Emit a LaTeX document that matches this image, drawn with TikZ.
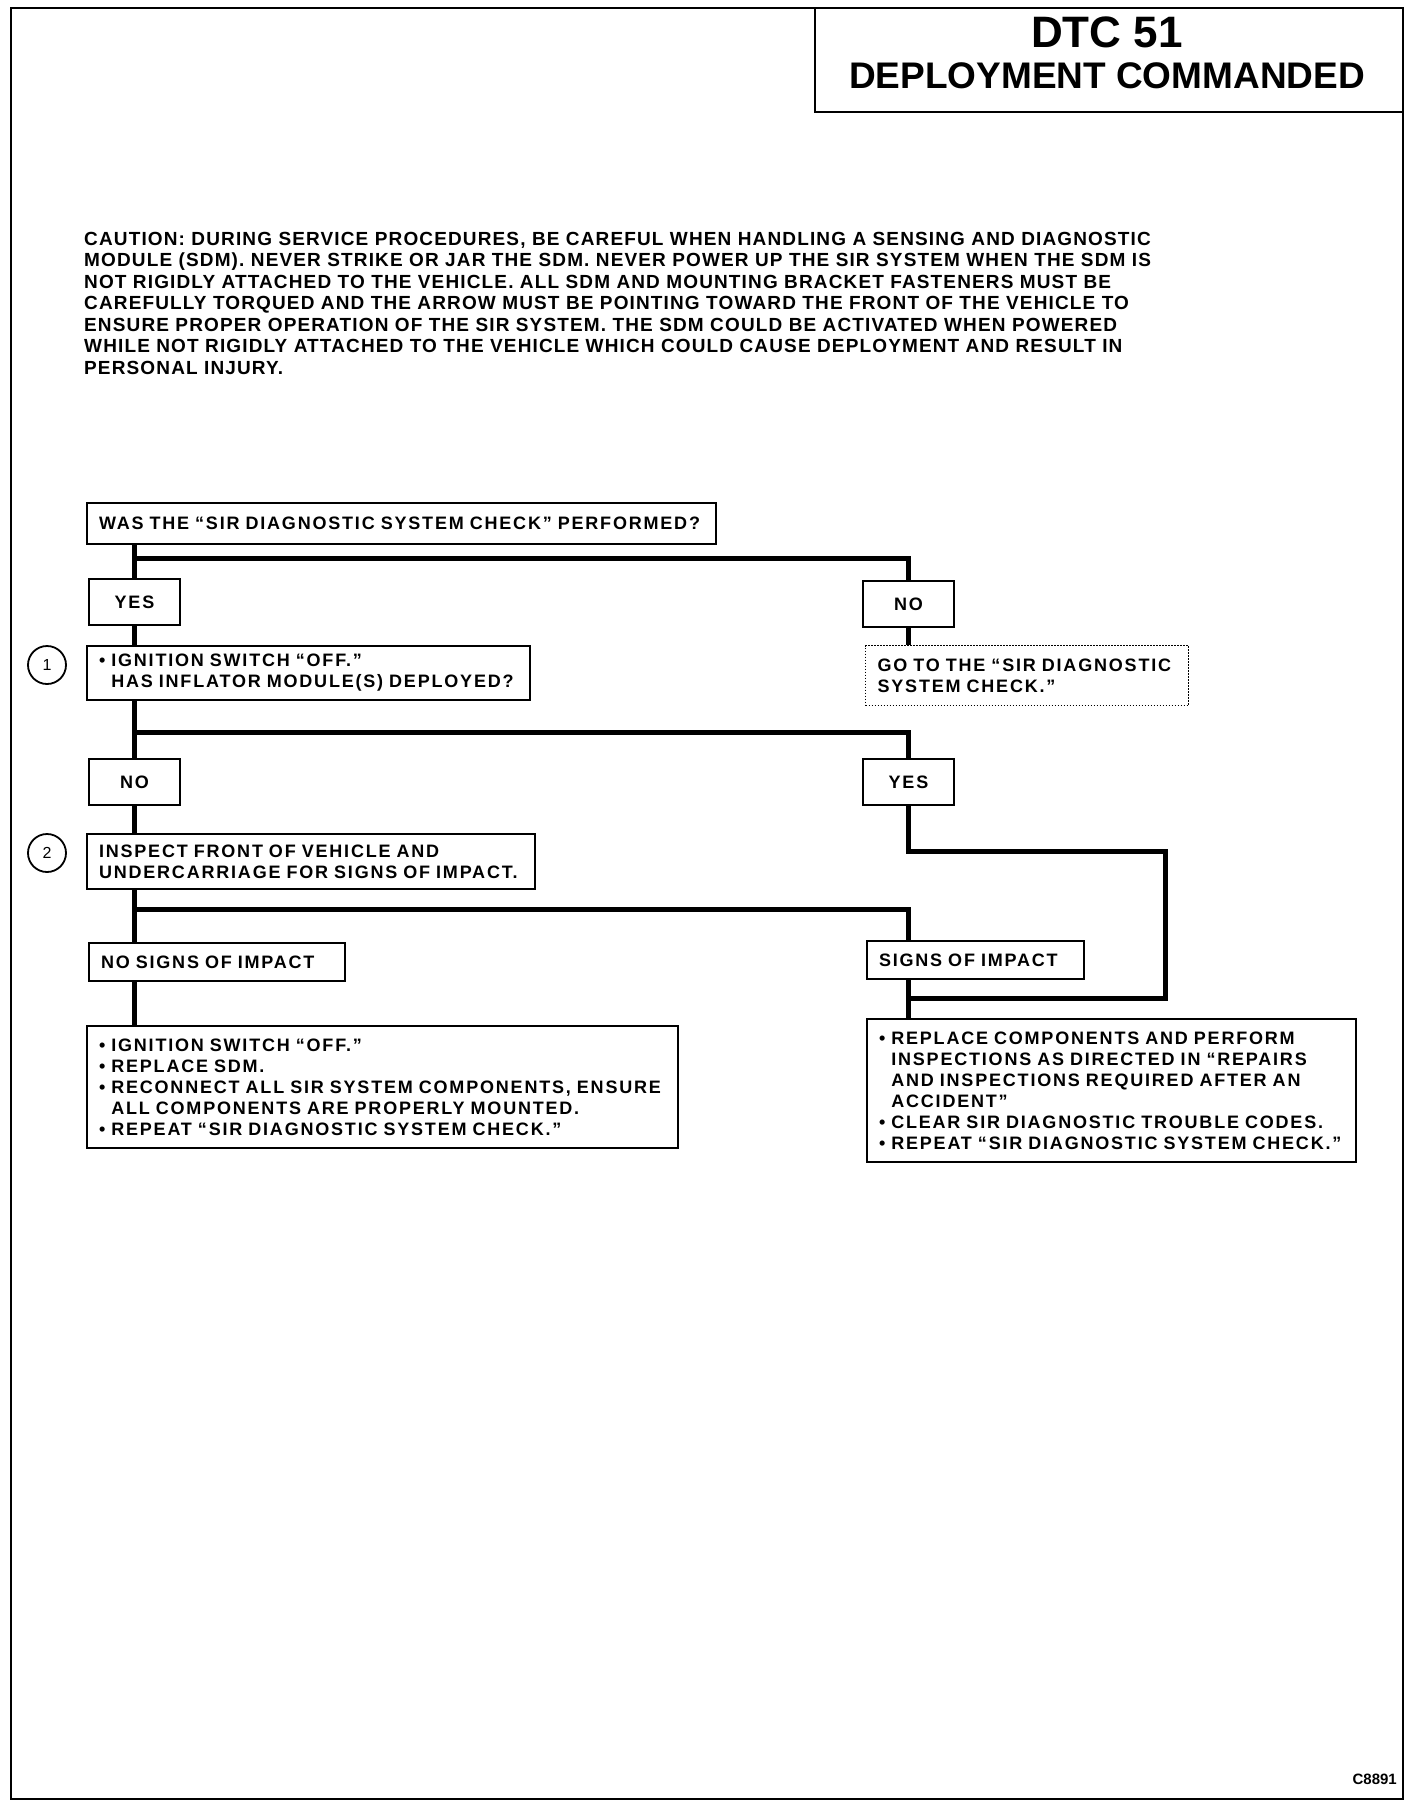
\documentclass[tikz,border=0pt]{standalone}
\usepackage{fontspec}
\setmainfont{Liberation Sans}
\newfontfamily\chartfont{Liberation Sans}[LetterSpace=10]
\newfontfamily\cautionfont{Liberation Sans}[LetterSpace=6]

\tikzset{
  frame/.style={line width=2pt},
  conn/.style={line width=5pt},
  box/.style={draw, line width=2pt, anchor=north west, inner xsep=12pt, inner ysep=0pt,
    align=left, font={\chartfont\bfseries\fontsize{18}{21}\selectfont}},
  answer/.style={box, align=center, minimum width=91pt, minimum height=46pt},
  dotbox/.style={box, line width=1.2pt, dash pattern=on 1.5pt off 1.5pt},
  numcircle/.style={circle, draw, line width=1.8pt, minimum size=38pt, inner sep=0pt,
    font=\fontsize{16}{16}\selectfont},
}

\begin{document}
\begin{tikzpicture}[x=1pt, y=-1pt]
    \useasboundingbox (0,0) rectangle (1424,1808);
    \draw[frame] (11,8) rectangle (1403,1799);
    \draw[frame] (815,8) -- (815,112) -- (1403,112);

    % title
    \node[font=\bfseries\fontsize{44}{44}\selectfont] (dtc) at (1107,32) {DTC 51};
    \node[font=\bfseries\fontsize{37}{37}\selectfont] (title) at (1107,76) {DEPLOYMENT COMMANDED};

    % caution text
    \node[anchor=north west, inner sep=0pt, align=left,
      font={\cautionfont\bfseries\fontsize{19}{21.5}\selectfont}] (caution) at (84,232)
      {CAUTION: DURING SERVICE PROCEDURES, BE CAREFUL WHEN HANDLING A SENSING AND DIAGNOSTIC\\
       MODULE (SDM). NEVER STRIKE OR JAR THE SDM. NEVER POWER UP THE SIR SYSTEM WHEN THE SDM IS\\
       NOT RIGIDLY ATTACHED TO THE VEHICLE. ALL SDM AND MOUNTING BRACKET FASTENERS MUST BE\\
       CAREFULLY TORQUED AND THE ARROW MUST BE POINTING TOWARD THE FRONT OF THE VEHICLE TO\\
       ENSURE PROPER OPERATION OF THE SIR SYSTEM. THE SDM COULD BE ACTIVATED WHEN POWERED\\
       WHILE NOT RIGIDLY ATTACHED TO THE VEHICLE WHICH COULD CAUSE DEPLOYMENT AND RESULT IN\\
       PERSONAL INJURY.};

    % flowchart boxes
    \node[box, text width=605pt, minimum height=41pt] (check) at (86,502)
      {WAS THE “SIR DIAGNOSTIC SYSTEM CHECK” PERFORMED?};
    \node[answer] (chkyes) at (88,578) {YES};
    \node[answer] (chkno) at (862,580) {NO};
    \node[dotbox, text width=299pt, minimum height=60pt] (gochk) at (865,645)
      {GO TO THE “SIR DIAGNOSTIC\\SYSTEM CHECK.”};

    \node[numcircle] (num1) at (47,665) {1};
    \node[box, text width=419pt, minimum height=54pt] (deployed) at (86,645)
      {\textbullet\ IGNITION SWITCH “OFF.”\\
       \phantom{\textbullet\ }HAS INFLATOR MODULE(S) DEPLOYED?};
    \node[answer] (depno) at (88,758) {NO};
    \node[answer] (depyes) at (862,758) {YES};

    \node[numcircle] (num2) at (47,853) {2};
    \node[box, text width=424pt, minimum height=55pt] (inspect) at (86,833)
      {INSPECT FRONT OF VEHICLE AND\\UNDERCARRIAGE FOR SIGNS OF IMPACT.};
    \node[box, text width=232pt, minimum height=38pt] (noimpact) at (88,942) {NO SIGNS OF IMPACT};
    \node[box, text width=193pt, minimum height=38pt] (impact) at (866,940) {SIGNS OF IMPACT};

    \node[box, text width=567pt, minimum height=122pt] (replacesdm) at (86,1025)
      {\textbullet\ IGNITION SWITCH “OFF.”\\
       \textbullet\ REPLACE SDM.\\
       \textbullet\ RECONNECT ALL SIR SYSTEM COMPONENTS, ENSURE\\
       \phantom{\textbullet\ }ALL COMPONENTS ARE PROPERLY MOUNTED.\\
       \textbullet\ REPEAT “SIR DIAGNOSTIC SYSTEM CHECK.”};
    \node[box, text width=465pt, minimum height=143pt] (replacecomp) at (866,1018)
      {\textbullet\ REPLACE COMPONENTS AND PERFORM\\
       \phantom{\textbullet\ }INSPECTIONS AS DIRECTED IN “REPAIRS\\
       \phantom{\textbullet\ }AND INSPECTIONS REQUIRED AFTER AN\\
       \phantom{\textbullet\ }ACCIDENT”\\
       \textbullet\ CLEAR SIR DIAGNOSTIC TROUBLE CODES.\\
       \textbullet\ REPEAT “SIR DIAGNOSTIC SYSTEM CHECK.”};

    \node[anchor=east, inner sep=0pt, font=\bfseries\fontsize{15}{15}\selectfont] (code) at (1397,1779) {C8891};

    % connectors
    \coordinate (br1) at (133.5,558);
    \coordinate (br2) at (133.5,732);
    \coordinate (br3) at (133.5,909);
    \coordinate (loopa) at (1165,851);
    \coordinate (loopb) at (1165,998);

    \draw[conn] (check.south -| chkyes.north) -- (chkyes.north);
    \draw[conn] (br1) -| (chkno.north);
    \draw[conn] (chkyes.south) -- (chkyes.south |- deployed.north);
    \draw[conn] (chkno.south) -- (chkno.south |- gochk.north);

    \draw[conn] (deployed.south -| depno.north) -- (depno.north);
    \draw[conn] (br2) -| (depyes.north);
    \draw[conn] (depno.south) -- (depno.south |- inspect.north);
    \draw[conn] (depyes.south) |- (loopa) -- (loopb) -- (loopb -| depyes.south);

    \draw[conn] (inspect.south -| depno.south) -- (noimpact.north -| depno.south);
    \draw[conn] (br3) -| (impact.north -| depyes.south);
    \draw[conn] (noimpact.south -| depno.south) -- (replacesdm.north -| depno.south);
    \draw[conn] (impact.south -| depyes.south) -- (replacecomp.north -| depyes.south);
\end{tikzpicture}
\end{document}
